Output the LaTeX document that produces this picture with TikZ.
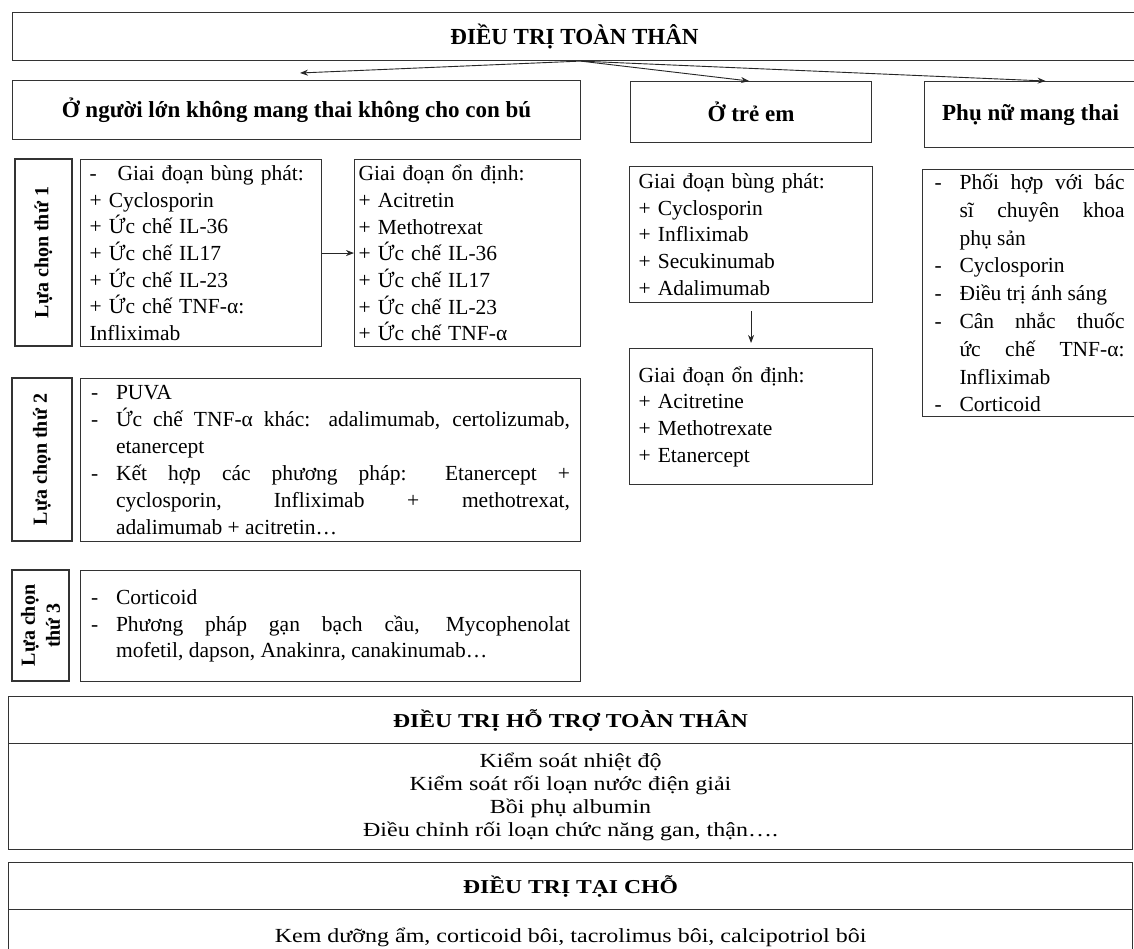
\documentclass[tikz,border=0pt]{standalone}
\usepackage{fontspec}
\setmainfont{Liberation Serif}
\newfontfamily\widefont[FakeStretch=1.2]{Liberation Serif}
\usetikzlibrary{arrows.meta}
\newcommand{\bodyf}{\fontsize{21.5}{26.7}\selectfont}
\newcommand{\hdrf}{\bfseries\fontsize{23}{27}\selectfont}
\newcommand{\lblf}{\bfseries\fontsize{20}{25}\selectfont}
\newcommand{\botf}{\widefont\fontsize{20}{23}\selectfont}
\newcommand{\bothf}{\widefont\bfseries\fontsize{19.7}{23}\selectfont}
\newcommand{\dashfirst}[1]{\noindent\hangindent=25pt\hangafter=1\makebox[25pt][l]{-}#1\par}
\newcommand{\dashitem}[1]{\par\noindent\hangindent=25pt\hangafter=1\makebox[25pt][l]{-}#1\par}
\tikzset{
  box/.style={draw=black!80, line width=1.1pt, inner sep=0pt, anchor=north west},
  lbl/.style={draw=black!80, line width=1.1pt, inner sep=0pt, rotate=90, font=\lblf, align=center},
  txtl/.style={align=left, font=\bodyf},
  txtj/.style={align=justify, font=\bodyf},
  arr/.style={draw=black!85, line width=0.9pt, -{Stealth[length=8pt,width=6pt]}},
}
\begin{document}
\begin{tikzpicture}[x=1pt,y=-1pt]
\useasboundingbox (0,0) rectangle (1134,949);
\fill[white] (0,0) rectangle (1134,949);
\clip (0,0) rectangle (1134,949);

% top
\node[box, minimum width=1124pt, minimum height=48pt, font=\hdrf] (T) at (12,12) {ĐIỀU TRỊ TOÀN THÂN};
\node[box, minimum width=568pt, minimum height=59pt, font=\hdrf] (A) at (12,80) {Ở người lớn không mang thai không cho con bú};
\node[box, minimum width=241pt, minimum height=61pt, font=\hdrf] (C) at (630,81) {Ở trẻ em};
\node[box, minimum width=212pt, minimum height=66pt, font=\hdrf] (P) at (924,81) {Phụ nữ mang thai};
\coordinate (aL) at (300,73);
\draw[arr] ([xshift=6pt]T.south) -- (aL);
\draw[arr] ([xshift=6pt]T.south) -- ([xshift=-2pt]C.north);
\draw[arr] ([xshift=6pt]T.south) -- ([xshift=15pt]P.north);

% first choice
\node[lbl, minimum width=187pt, minimum height=57pt] (L1) at (43.5,252.5) {Lựa chọn thứ 1};
\node[box, txtl, minimum height=187pt, text width=223pt, inner xsep=9pt] (B1) at (80,159)
  {\makebox[28pt][l]{-}Giai đoạn bùng phát:\\+ Cyclosporin\\+ Ức chế IL-36\\+ Ức chế IL17\\+ Ức chế IL-23\\+ Ức chế TNF-α:\\Infliximab};
\node[box, txtl, minimum height=187pt, text width=218pt, inner xsep=4pt] (B2) at (354,159)
  {Giai đoạn ổn định:\\+ Acitretin\\+ Methotrexat\\+ Ức chế IL-36\\+ Ức chế IL17\\+ Ức chế IL-23\\+ Ức chế TNF-α};
\draw[arr] (B1.east) -- (B2.west);

% children
\node[box, txtl, minimum height=136pt, text width=225pt, inner xsep=9pt] (K1) at (629,166)
  {Giai đoạn bùng phát:\\+ Cyclosporin\\+ Infliximab\\+ Secukinumab\\+ Adalimumab};
\node[box, txtl, minimum height=136pt, text width=225pt, inner xsep=9pt] (K2) at (629,348)
  {Giai đoạn ổn định:\\+ Acitretine\\+ Methotrexate\\+ Etanercept};
\draw[arr] ([yshift=-8pt]K1.south) -- ([yshift=5pt]K2.north);

% pregnant
\node[box, txtj, minimum height=247pt, text width=190pt, inner xsep=12pt] (Q) at (922,169)
  {\fontsize{21.5}{27.8}\selectfont\parskip=0pt
   \dashfirst{Phối hợp với bác\linebreak sĩ chuyên khoa\linebreak phụ sản}%
   \dashitem{Cyclosporin}%
   \dashitem{Điều trị ánh sáng}%
   \dashitem{Cân nhắc thuốc\linebreak ức chế TNF-α:\linebreak Infliximab}%
   \dashitem{Corticoid}};

% second choice
\node[lbl, minimum width=163pt, minimum height=60pt] (L2) at (42,459.5) {Lựa chọn thứ 2};
\node[box, txtj, minimum height=163pt, text width=479pt, inner xsep=10.5pt] (B3) at (80,378)
  {\fontsize{21.5}{27.1}\selectfont\parskip=0pt
   \dashfirst{PUVA}%
   \dashitem{Ức chế TNF-α khác: adalimumab, certolizumab,\linebreak etanercept}%
   \dashitem{Kết hợp các phương pháp: Etanercept +\linebreak cyclosporin, Infliximab + methotrexat,\linebreak adalimumab + acitretin…}};

% third choice
\node[lbl, minimum width=111pt, minimum height=57pt] (L3) at (40.5,625.5) {Lựa chọn\\thứ 3};
\node[box, txtj, minimum height=111pt, text width=479pt, inner xsep=10.5pt] (B4) at (80,570)
  {\parskip=0pt
   \dashfirst{Corticoid}%
   \dashitem{Phương pháp gạn bạch cầu, Mycophenolat\linebreak mofetil, dapson, Anakinra, canakinumab…}};

% supportive
\node[box, minimum width=1124pt, minimum height=47pt, font=\bothf] (H1) at (8,696) {ĐIỀU TRỊ HỖ TRỢ TOÀN THÂN};
\node[box, minimum width=1124pt, minimum height=106pt, font=\botf, align=center] (H2) at (8,743)
  {Kiểm soát nhiệt độ\\Kiểm soát rối loạn nước điện giải\\Bồi phụ albumin\\Điều chỉnh rối loạn chức năng gan, thận….};

% local
\node[box, minimum width=1124pt, minimum height=47pt, font=\bothf] (T1) at (8,862) {ĐIỀU TRỊ TẠI CHỖ};
\node[box, minimum width=1124pt, minimum height=56pt, font=\botf] (T2) at (8,909)
  {Kem dưỡng ẩm, corticoid bôi, tacrolimus bôi, calcipotriol bôi};
\end{tikzpicture}
\end{document}
